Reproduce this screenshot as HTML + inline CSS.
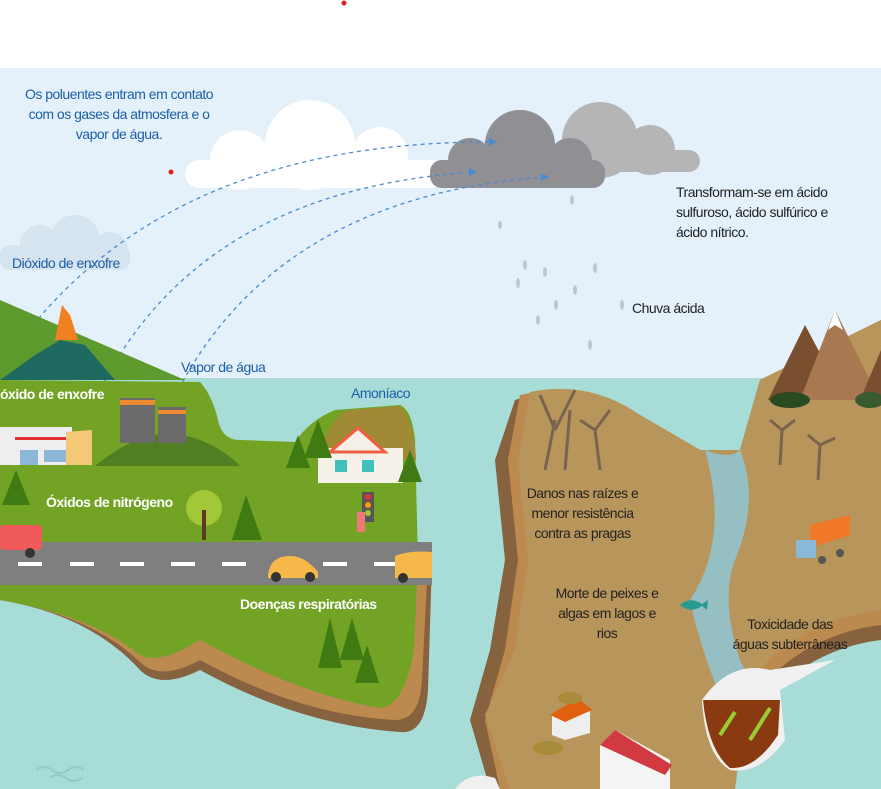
<!DOCTYPE html>
<html><head><meta charset="utf-8"><style>
body{margin:0;width:881px;height:789px;overflow:hidden;background:#fff;font-family:"Liberation Sans",sans-serif}
svg{position:absolute;left:0;top:0}
.t{position:absolute;font-size:14px;line-height:20px;letter-spacing:-0.5px}
.b{color:#1c5ea8}.w{color:#fff}.d{color:#222}
</style></head><body>
<svg width="881" height="789" viewBox="0 0 881 789">
<rect x="0" y="68" width="881" height="312" fill="#e4f1fb"/>
<rect x="0" y="378" width="881" height="411" fill="#a8dcd7"/>
<circle cx="344" cy="3" r="2.5" fill="#e02020"/>
<circle cx="171" cy="172" r="2.5" fill="#e02020"/>
<g fill="#fff">
<circle cx="310" cy="145" r="45"/><circle cx="240" cy="160" r="30"/><circle cx="380" cy="155" r="28"/>
<rect x="185" y="160" width="260" height="28" rx="14"/>
</g>
<g fill="#d6e4f0"><circle cx="40" cy="245" r="20"/><circle cx="75" cy="240" r="25"/><circle cx="110" cy="250" r="18"/><rect x="0" y="245" width="130" height="25" rx="10"/></g>
<g fill="#b5b5b8"><circle cx="600" cy="140" r="38"/><circle cx="650" cy="150" r="25"/><rect x="560" y="150" width="140" height="22" rx="11"/></g>
<g fill="#8f8f94"><circle cx="520" cy="145" r="35"/><circle cx="470" cy="160" r="22"/><circle cx="570" cy="160" r="22"/><rect x="430" y="160" width="175" height="28" rx="12"/></g>
<g fill="none" stroke="#4a8ad0" stroke-width="1.3" stroke-dasharray="4 4">
<path d="M0 370 Q150 140 495 142"/><path d="M100 390 Q200 190 475 172"/><path d="M145 470 Q230 200 545 177"/>
</g>
<g fill="#4a8ad0"><path d="M497 142 l-8 -4 v8z"/><path d="M477 172 l-8 -4 v8z"/><path d="M549 177 l-8 -4 v8z"/></g>
<g fill="#b8c8d8"><ellipse cx="572" cy="200" rx="2" ry="5"/><ellipse cx="525" cy="265" rx="2" ry="5"/><ellipse cx="545" cy="272" rx="2" ry="5"/><ellipse cx="518" cy="283" rx="2" ry="5"/><ellipse cx="575" cy="290" rx="2" ry="5"/><ellipse cx="595" cy="268" rx="2" ry="5"/><ellipse cx="556" cy="305" rx="2" ry="5"/><ellipse cx="538" cy="320" rx="2" ry="5"/><ellipse cx="622" cy="305" rx="2" ry="5"/><ellipse cx="590" cy="345" rx="2" ry="5"/><ellipse cx="500" cy="225" rx="2" ry="4"/></g>
<path d="M0 300 L185 380 L0 380Z" fill="#5d9b2e"/>
<path d="M0 380 L35 355 L60 340 L85 345 L115 380Z" fill="#1f6a60"/>
<path d="M55 340 L62 305 L70 315 L78 340 Z" fill="#f08020"/>
<!-- left island -->
<path d="M0 600 Q90 615 140 670 Q160 690 200 670 Q300 725 400 732 Q425 735 428 690 L432 560 L418 560 L414 650 Q405 705 380 708 Q300 695 200 640 Q160 665 140 655 Q90 615 0 595Z" fill="#86623f"/>
<path d="M0 600 Q90 615 140 662 Q160 682 200 660 Q300 715 395 720 Q420 720 422 680 L428 560 L418 560 L414 650 Q405 705 380 708 Q300 695 200 640 Q160 665 140 655 Q90 615 0 595Z" fill="#bc8a4e"/>
<path d="M0 380 L200 382 Q212 395 218 420 Q222 440 240 440 L295 442 Q310 420 335 410 L400 405 Q412 410 415 440 L418 560 L414 650 Q405 705 380 708 Q300 695 200 640 Q160 665 140 655 Q90 615 0 600Z" fill="#72a324"/>
<path d="M95 466 Q150 420 200 440 Q225 450 240 466Z" fill="#4f7f22"/>
<path d="M320 455 Q330 415 350 410 L400 406 Q414 420 416 460Z" fill="#a08a35"/>
<rect x="120" y="398" width="35" height="45" fill="#6b6b6b"/><rect x="120" y="400" width="35" height="5" fill="#f08a30"/>
<rect x="158" y="407" width="28" height="36" fill="#6b6b6b"/><rect x="158" y="410" width="28" height="4" fill="#f08a30"/>
<rect x="0" y="427" width="72" height="38" fill="#eeeef0"/><rect x="15" y="437" width="57" height="3" fill="#e03030"/>
<rect x="20" y="450" width="18" height="15" fill="#8cb8d8"/><rect x="44" y="450" width="22" height="12" fill="#8cb8d8"/>
<path d="M66 432 L92 430 L92 465 L66 465Z" fill="#f5c878"/>
<rect x="318" y="448" width="85" height="35" fill="#f5f1e8"/>
<path d="M330 452 L358 428 L385 452Z" fill="#f5f1e8" stroke="#f06040" stroke-width="3"/>
<rect x="335" y="460" width="12" height="12" fill="#40c0b8"/><rect x="362" y="460" width="12" height="12" fill="#40c0b8"/>
<g fill="#3f7a12"><path d="M16 470 L30 505 L2 505Z"/><path d="M246 495 L262 540 L232 540Z"/><path d="M330 618 L342 668 L318 668Z"/><path d="M352 618 L364 660 L340 660Z"/><path d="M367 645 L379 683 L355 683Z"/><path d="M298 435 L310 468 L286 468Z"/><path d="M318 420 L332 458 L304 458Z"/><path d="M410 450 L422 482 L398 482Z"/></g>
<circle cx="204" cy="508" r="18" fill="#a2c83a"/><rect x="202" y="510" width="4" height="30" fill="#5a3a20"/>
<rect x="0" y="542" width="432" height="43" fill="#7f7f80"/>
<g fill="#fff"><rect x="18" y="562" width="24" height="4"/><rect x="70" y="562" width="24" height="4"/><rect x="120" y="562" width="24" height="4"/><rect x="171" y="562" width="24" height="4"/><rect x="222" y="562" width="24" height="4"/><rect x="323" y="562" width="24" height="4"/><rect x="374" y="562" width="24" height="4"/></g>
<rect x="0" y="525" width="42" height="25" rx="4" fill="#f05a5a"/><circle cx="30" cy="553" r="5" fill="#333"/>
<path d="M268 575 Q270 556 290 556 Q305 556 318 572 L318 578 L268 578Z" fill="#f7b84a"/><circle cx="276" cy="577" r="5" fill="#333"/><circle cx="310" cy="577" r="5" fill="#333"/>
<path d="M395 578 L395 556 Q410 550 432 552 L432 578Z" fill="#f7b84a"/><circle cx="403" cy="578" r="5" fill="#333"/>
<rect x="362" y="492" width="12" height="30" fill="#555"/><circle cx="368" cy="497" r="3" fill="#e33"/><circle cx="368" cy="505" r="3" fill="#f90"/><circle cx="368" cy="513" r="3" fill="#9c3"/>
<rect x="357" y="512" width="8" height="20" fill="#e77"/>
<!-- right island -->
<path d="M515 400 Q570 380 640 415 L700 450 L740 450 L760 380 L881 320 L881 640 Q800 650 750 720 L725 789 L490 789 L470 720 L490 650 L505 560 L495 460Z" fill="#86623f"/>
<path d="M520 395 Q580 382 640 415 L700 450 L740 450 L760 380 L881 320 L881 625 Q800 635 750 700 L730 789 L500 789 L485 720 L505 650 L518 560 L508 460Z" fill="#bc8a4e"/>
<path d="M530 392 Q590 380 640 415 L700 450 L740 450 L760 380 L881 320 L881 610 Q800 620 750 680 L735 789 L510 789 L485 715 L515 650 L528 560 L518 460Z" fill="#b8955a"/>
<path d="M705 450 Q730 460 740 450 Q760 500 735 560 Q720 600 740 660 L760 700 L730 720 Q700 650 690 600 Q730 540 705 450Z" fill="#95bfc3"/>
<path d="M768 400 L805 325 L845 400Z" fill="#7a4f30"/><path d="M800 400 L835 310 L880 400Z" fill="#a87850"/><path d="M860 400 L881 350 L881 400Z" fill="#7a4f30"/>
<path d="M828 330 L835 310 L843 330 L835 325Z" fill="#fff"/>
<ellipse cx="790" cy="400" rx="20" ry="8" fill="#2a4a20"/><ellipse cx="870" cy="400" rx="15" ry="8" fill="#3a5a30"/>
<g stroke="#7a6450" stroke-width="3" fill="none"><path d="M545 470 L555 420 M555 430 L540 395 M555 430 L575 390 M565 470 L570 410 M600 470 L595 430 L610 410 M595 430 L580 420"/><path d="M780 465 L782 430 L770 420 M782 430 L795 420"/><path d="M818 480 L820 445 L808 435 M820 445 L835 438"/></g>
<path d="M810 525 L850 515 L850 535 L810 548Z" fill="#f07828"/><rect x="796" y="540" width="20" height="18" fill="#8ab8d8"/><circle cx="822" cy="560" r="4" fill="#555"/><circle cx="840" cy="553" r="4" fill="#555"/>
<path d="M680 605 Q690 596 702 604 L708 600 L707 610 L702 606 Q690 614 680 605Z" fill="#2a9a90"/>
<path d="M702 700 Q730 660 770 670 L835 660 L780 690 L785 740 Q760 775 730 770 Q705 755 702 700Z" fill="#f0f0f0"/>
<path d="M703 700 L780 700 L778 735 Q755 770 730 768 Q708 750 703 700Z" fill="#8a3a10"/>
<path d="M720 735 L735 712 M750 740 L770 708" stroke="#9acd32" stroke-width="4" fill="none"/>
<path d="M552 715 L580 700 L590 712 L590 733 L565 740 L552 735Z" fill="#eee"/><path d="M550 715 L578 698 L592 710 L565 722Z" fill="#e06010"/>
<ellipse cx="548" cy="748" rx="15" ry="7" fill="#a88c3a"/><ellipse cx="570" cy="698" rx="12" ry="6" fill="#a88c3a"/>
<path d="M600 745 L615 730 L670 760 L670 789 L600 789Z" fill="#f4f4f4"/><path d="M600 745 L615 730 L672 765 L665 775Z" fill="#d03a40"/>
<path d="M455 789 Q470 770 495 778 L500 789Z" fill="#f0f0f0"/>
<g fill="none" stroke="#8fcac6" stroke-width="2"><path d="M36 770 q8 -6 16 0 q8 6 16 0 q8 -6 16 0"/><path d="M50 778 q8 -6 16 0 q8 6 16 0"/></g>
</svg>
<div class="t b" style="left:14px;top:84px;width:210px;text-align:center">Os poluentes entram em contato com os gases da atmosfera e o vapor de água.</div>
<div class="t d" style="left:676px;top:182px;width:185px">Transformam-se em ácido sulfuroso, ácido sulfúrico e ácido nítrico.</div>
<div class="t b" style="left:12px;top:253px">Dióxido de enxofre</div>
<div class="t d" style="left:632px;top:298px">Chuva ácida</div>
<div class="t b" style="left:181px;top:357px">Vapor de água</div>
<div class="t b" style="left:351px;top:383px">Amoníaco</div>
<div class="t w" style="left:0px;top:384px;font-weight:bold">óxido de enxofre</div>
<div class="t w" style="left:46px;top:492px;font-weight:bold">Óxidos de nitrógeno</div>
<div class="t w" style="left:240px;top:594px;font-weight:bold">Doenças respiratórias</div>
<div class="t d" style="left:520px;top:483px;width:125px;text-align:center">Danos nas raízes e menor resistência contra as pragas</div>
<div class="t d" style="left:548px;top:583px;width:118px;text-align:center">Morte de peixes e algas em lagos e rios</div>
<div class="t d" style="left:728px;top:614px;width:124px;text-align:center">Toxicidade das águas subterrâneas</div>
</body></html>
